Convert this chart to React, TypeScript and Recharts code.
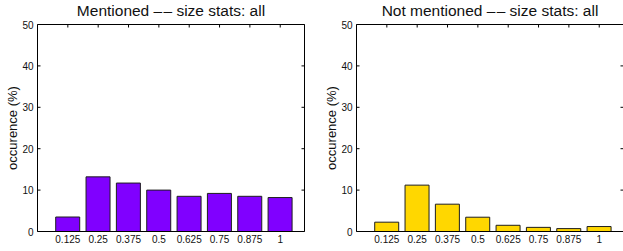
import { Bar, BarChart, XAxis, YAxis } from "recharts";

const FONT = '"Liberation Sans", Arial, Helvetica, sans-serif';
const PURPLE = "#8000ff";
const GOLD = "#ffd700";
const EDGE = "#1e1e1e";

const sizes = [0.125, 0.25, 0.375, 0.5, 0.625, 0.75, 0.875, 1];
const mentioned = [3.5, 13.2, 11.7, 10.0, 8.5, 9.2, 8.5, 8.2];
const notMentioned = [2.25, 11.2, 6.6, 3.45, 1.5, 1.0, 0.7, 1.2];
const yTicks = [0, 10, 20, 30, 40, 50];
const xDomain = [0, 1.1];
const yDomain = [0, 50];

const W = 311;
const H = 251;

// inward tick marks, matlab style
const LeftTick = (p: any) => (
  <g>
    <line x1={p.x} x2={p.x + 3} y1={p.y} y2={p.y} stroke="#000" />
    <text x={p.x - 4} y={p.y + 4} textAnchor="end" fontSize={10} fontFamily={FONT} fill="#111">
      {p.payload.value}
    </text>
  </g>
);

const RightTick = (p: any) => <line x1={p.x} x2={p.x - 3} y1={p.y} y2={p.y} stroke="#000" />;

const TopTick = (p: any) => <line x1={p.x} x2={p.x} y1={p.y} y2={p.y + 3} stroke="#000" />;

const BottomTick = (p: any) => (
  <text x={p.x} y={p.y + 11.5} textAnchor="middle" fontSize={10} fontFamily={FONT} fill="#111">
    {p.payload.value}
  </text>
);

function Panel({ title, values, color }: { title: string; values: number[]; color: string }) {
  const data = sizes.map((s, i) => ({ size: s, pct: values[i] }));
  return (
    <BarChart width={W} height={H} data={data} margin={{ top: 23.5, right: 5.5, bottom: 0, left: 0 }} barCategoryGap="10%">
      <XAxis
        xAxisId="top"
        orientation="top"
        type="number"
        dataKey="size"
        domain={xDomain}
        ticks={sizes}
        interval={0}
        allowDataOverflow
        height={1}
        tickSize={0}
        tickMargin={0}
        tickLine={false}
        axisLine={{ stroke: "#000" }}
        tick={TopTick}
        label={{
          content: ({ viewBox }: any) => (
            <text x={viewBox.x + viewBox.width / 2} y={viewBox.y + viewBox.height - 9} textAnchor="middle" fontSize={15.5} fontFamily={FONT} fill="#111">
              {title}
            </text>
          ),
        }}
      />
      <XAxis
        type="number"
        dataKey="size"
        domain={xDomain}
        ticks={sizes}
        interval={0}
        allowDataOverflow
        height={19.5}
        tickSize={0}
        tickMargin={0}
        tickLine={false}
        axisLine={{ stroke: "#000" }}
        tick={BottomTick}
      />
      <YAxis
        domain={yDomain}
        ticks={yTicks}
        interval={0}
        allowDataOverflow
        width={37.5}
        tickSize={0}
        tickMargin={0}
        tickLine={false}
        axisLine={{ stroke: "#000" }}
        tick={LeftTick}
        label={{
          content: ({ viewBox }: any) => {
            const cx = 17;
            const cy = viewBox.y + viewBox.height / 2;
            return (
              <text x={cx} y={cy} transform={`rotate(-90, ${cx}, ${cy})`} textAnchor="middle" fontSize={13} fontFamily={FONT} fill="#111">
                occurence (%)
              </text>
            );
          },
        }}
      />
      <YAxis
        yAxisId="right"
        orientation="right"
        domain={yDomain}
        ticks={yTicks}
        interval={0}
        allowDataOverflow
        width={1}
        tickSize={0}
        tickMargin={0}
        tickLine={false}
        axisLine={{ stroke: "#000" }}
        tick={RightTick}
      />
      <Bar dataKey="pct" fill={color} stroke={EDGE} strokeWidth={1} isAnimationActive={false} />
    </BarChart>
  );
}

export default function App() {
  return (
    <div style={{ position: "fixed", left: 0, top: 0, width: 623, height: 251, overflow: "hidden", background: "#fff" }}>
      <div style={{ position: "absolute", left: 0, top: 0 }}>
        <Panel title={"Mentioned \u2013\u200a\u2013 size stats: all"} values={mentioned} color={PURPLE} />
      </div>
      <div style={{ position: "absolute", left: 319, top: 0 }}>
        <Panel title={"Not mentioned \u2013\u200a\u2013 size stats: all"} values={notMentioned} color={GOLD} />
      </div>
    </div>
  );
}
